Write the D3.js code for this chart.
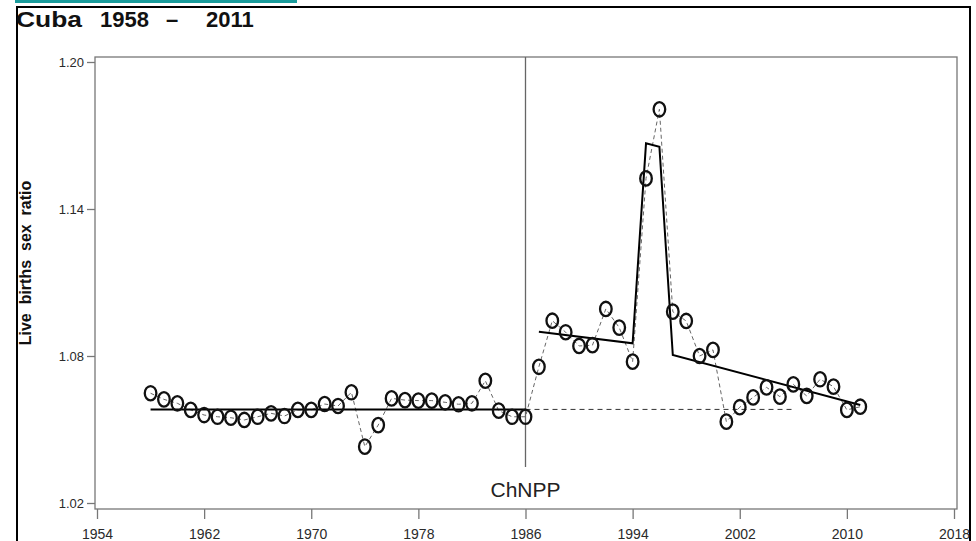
<!DOCTYPE html>
<html>
<head>
<meta charset="utf-8">
<script src="https://cdn.jsdelivr.net/npm/d3@7"></script>
<style>
  body { margin: 0; background: #fff; }
  svg { display: block; font-family: "Liberation Sans", Arial, Helvetica, sans-serif; }
</style>
</head>
<body>
<div id="chart"></div>
<script>
const WIDTH = 976
const HEIGHT = 541

// données
const years = [1958, 1959, 1960, 1961, 1962, 1963, 1964, 1965, 1966, 1967,
  1968, 1969, 1970, 1971, 1972, 1973, 1974, 1975, 1976, 1977,
  1978, 1979, 1980, 1981, 1982, 1983, 1984, 1985, 1986, 1987,
  1988, 1989, 1990, 1991, 1992, 1993, 1994, 1995, 1996, 1997,
  1998, 1999, 2000, 2001, 2002, 2003, 2004, 2005, 2006, 2007,
  2008, 2009, 2010, 2011];
const ratio = [1.0648, 1.0623, 1.0607, 1.0580, 1.0559, 1.0552, 1.0548, 1.0539, 1.0552, 1.0566,
  1.0555, 1.0580, 1.0580, 1.0604, 1.0596, 1.0652, 1.0430, 1.0518, 1.0627, 1.0620,
  1.0618, 1.0618, 1.0611, 1.0603, 1.0607, 1.0699, 1.0577, 1.0552, 1.0552, 1.0756,
  1.0944, 1.0897, 1.0841, 1.0844, 1.0992, 1.0916, 1.0777, 1.1525, 1.1807, 1.0981,
  1.0943, 1.0800, 1.0825, 1.0532, 1.0591, 1.0631, 1.0672, 1.0634, 1.0684, 1.0637,
  1.0705, 1.0675, 1.0580, 1.0593];

// modèle (lignes pleines)
const trendBeforeYears = [1958, 1986];
const trendBeforeVals = [1.0582, 1.0582];
const trendAfterYears = [1987, 1994, 1995, 1996, 1997, 2011];
const trendAfterVals = [1.0899, 1.0852, 1.1668, 1.1654, 1.0804, 1.0600];
// prolongement sans effet (tirets)
const counterYears = [1986, 2006];
const counterVals = [1.0582, 1.0582];

const xTicks = [1954, 1962, 1970, 1978, 1986, 1994, 2002, 2010, 2018];
const yTicks = [1.02, 1.08, 1.14, 1.20];
const eventYear = 1986;

const svg = d3.select("#chart")
    .append("svg")
    .attr("width", WIDTH)
    .attr("height", HEIGHT);

// bande turquoise en haut + cadre extérieur
svg.append("rect")
    .attr("x", 15).attr("y", 0)
    .attr("width", 282).attr("height", 3)
    .attr("fill", "#1a9c9c");

svg.append("rect")
    .attr("x", 17).attr("y", 7)
    .attr("width", 953).attr("height", 560)
    .attr("fill", "none")
    .attr("stroke", "#000")
    .attr("stroke-width", 2);

// titre
const title = svg.append("g")
    .attr("font-weight", "bold")
    .attr("font-size", 22)
    .attr("fill", "#111");
title.append("text").attr("x", 16).attr("y", 27)
    .attr("textLength", 66).attr("lengthAdjust", "spacingAndGlyphs").text("Cuba");
title.append("text").attr("x", 100).attr("y", 27).text("1958");
title.append("text").attr("x", 166).attr("y", 27).text("–");
title.append("text").attr("x", 206).attr("y", 27).text("2011");

const x = d3.scaleLinear().domain([1954, 2018]).range([97, 954]);
const y = d3.scaleLinear().domain([1.02, 1.20]).range([503, 62]);

// cadre du graphique
svg.append("rect")
    .attr("x", 95).attr("y", 57)
    .attr("width", 862).attr("height", 452)
    .attr("fill", "none")
    .attr("stroke", "#777")
    .attr("stroke-width", 1.3);

// axes
const yAxis = svg.append("g")
    .attr("transform", "translate(95,0)")
    .call(d3.axisLeft(y).tickValues(yTicks).tickFormat(d3.format(".2f")).tickSize(8).tickPadding(3));
const xAxis = svg.append("g")
    .attr("transform", "translate(0,509)")
    .call(d3.axisBottom(x).tickValues(xTicks).tickFormat(d3.format("d")).tickSize(10).tickPadding(10));

[yAxis, xAxis].forEach(ax => {
    ax.select(".domain").remove();
    ax.selectAll("line").attr("stroke", "#777").attr("stroke-width", 1.3);
    ax.selectAll("text")
        .attr("fill", "#2a2a2a")
        .attr("font-family", "\"Liberation Sans\", Arial, sans-serif");
});
yAxis.selectAll("text").attr("font-size", 13);
xAxis.selectAll("text").attr("font-size", 14);

// titre axe y
svg.append("text")
    .attr("transform", "translate(31,263) rotate(-90)")
    .attr("text-anchor", "middle")
    .attr("font-weight", "bold")
    .attr("font-size", 16)
    .attr("fill", "#111")
    .style("white-space", "pre")
    .text("Live  births  sex  ratio");

// ligne verticale ChNPP
svg.append("line")
    .attr("x1", x(eventYear)).attr("x2", x(eventYear))
    .attr("y1", 57).attr("y2", 467)
    .attr("stroke", "#666")
    .attr("stroke-width", 1.3);

svg.append("text")
    .attr("x", x(eventYear))
    .attr("y", 497)
    .attr("text-anchor", "middle")
    .attr("font-size", 21)
    .attr("fill", "#222")
    .text("ChNPP");

const line = d3.line()
    .x(d => x(d[0]))
    .y(d => y(d[1]));

// tirets reliant les points
svg.append("path")
    .datum(d3.zip(years, ratio))
    .attr("d", line)
    .attr("fill", "none")
    .attr("stroke", "#666")
    .attr("stroke-width", 1)
    .attr("stroke-dasharray", "4,3");

// contrefactuel
svg.append("path")
    .datum(d3.zip(counterYears, counterVals))
    .attr("d", line)
    .attr("fill", "none")
    .attr("stroke", "#333")
    .attr("stroke-width", 1)
    .attr("stroke-dasharray", "5,4");

// modèle
[d3.zip(trendBeforeYears, trendBeforeVals), d3.zip(trendAfterYears, trendAfterVals)].forEach(seg => {
    svg.append("path")
        .datum(seg)
        .attr("d", line)
        .attr("fill", "none")
        .attr("stroke", "#000")
        .attr("stroke-width", 2)
        .attr("stroke-linejoin", "miter");
});

// points (cercles "O")
svg.append("g")
    .selectAll("ellipse")
    .data(d3.zip(years, ratio))
    .enter()
    .append("ellipse")
    .attr("cx", d => x(d[0]))
    .attr("cy", d => y(d[1]))
    .attr("rx", 5.8)
    .attr("ry", 7.2)
    .attr("fill", "none")
    .attr("stroke", "#111")
    .attr("stroke-width", 2.3);
</script>
</body>
</html>
